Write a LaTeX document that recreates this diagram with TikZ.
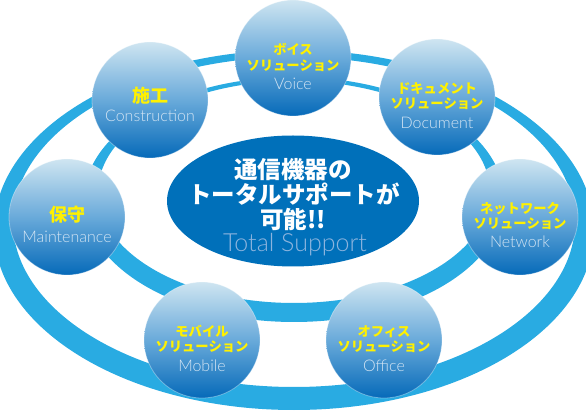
\documentclass[tikz,border=0pt]{standalone}
\usepackage{fontspec}
\setmainfont{Open Sans}
\newfontfamily\jp{Noto Sans CJK JP}
\newfontfamily\thin{Lato}[UprightFont={* Light}]
\usetikzlibrary{shapes.geometric}
\definecolor{band}{RGB}{41,171,226}
\definecolor{core}{RGB}{0,112,186}
\definecolor{balltop}{RGB}{207,229,241}
\definecolor{ballmid}{RGB}{105,170,218}
\definecolor{ballbot}{RGB}{6,106,185}
\definecolor{jpyel}{RGB}{255,241,0}
\definecolor{entext}{RGB}{212,229,244}
\definecolor{coretext}{RGB}{140,180,222}
\tikzset{
  ball/.style={circle, minimum size=116pt, inner sep=0pt, top color=balltop, bottom color=ballbot, middle color=ballmid, draw=white, draw opacity=0.35, line width=0.8pt},
  jpsmall/.style={anchor=base, inner sep=0pt, text=jpyel, font=\jp\bfseries\fontsize{13.3}{15}\selectfont},
  jpbig/.style={anchor=base, inner sep=0pt, text=jpyel, font=\jp\bfseries\fontsize{18}{20}\selectfont},
  enlab/.style={anchor=base, inner sep=0pt, text=entext, font=\thin\fontsize{16}{18}\selectfont},
  corejp/.style={anchor=base, inner sep=0pt, text=white, font=\jp\bfseries\fontsize{23.5}{25}\selectfont},
}
\begin{document}
\begin{tikzpicture}[x=1pt,y=-1pt]
\useasboundingbox (0,0) rectangle (586,411);
% rings
\fill[band, even odd rule] (294,230) ellipse [x radius=300, y radius=180] (294,222) ellipse [x radius=281, y radius=165];
\fill[band, even odd rule] (294,199.5) ellipse [x radius=210, y radius=122.5] (294,192) ellipse [x radius=196, y radius=111];
% centre
\node[ellipse, fill=core, minimum width=252pt, minimum height=131pt, inner sep=0pt] (core) at (293,201) {};
\node[corejp] (c1) at (293,178.5) {通信機器の};
\node[corejp] (c2) at (294,203.5) {トータルサポートが};
\node[corejp] (c3) at (293,228.5) {可能!!};
\node[anchor=base, inner sep=0pt, text=coretext, font=\thin\fontsize{25}{27}\selectfont] (c4) at (295,252) {Total Support};
% balls
\node[ball] (voice) at (293,58) {};
\node[ball] (cons) at (150,100) {};
\node[ball] (doc) at (437,97) {};
\node[ball] (maint) at (67,217) {};
\node[ball] (net) at (520,217) {};
\node[ball] (mob) at (202,340) {};
\node[ball] (off) at (384,340) {};
% labels
\node[jpsmall] (v1) at (293,55) {ボイス};
\node[jpsmall] (v2) at (293,71) {ソリューション};
\node[enlab] (v3) at (293,89.5) {Voice};
\node[jpsmall] (d1) at (437,94) {ドキュメント};
\node[jpsmall] (d2) at (437,109) {ソリューション};
\node[enlab] (d3) at (437,128.5) {Document};
\node[jpsmall] (n1) at (520,214) {ネットワーク};
\node[jpsmall] (n2) at (520,229) {ソリューション};
\node[enlab] (n3) at (520,247.5) {Network};
\node[jpsmall] (m1) at (202,337) {モバイル};
\node[jpsmall] (m2) at (202,352) {ソリューション};
\node[enlab] (m3) at (202,371.5) {Mobile};
\node[jpsmall] (o1) at (384,337) {オフィス};
\node[jpsmall] (o2) at (384,352) {ソリューション};
\node[enlab] (o3) at (384,371.5) {Office};
\node[jpbig] (k1) at (150,103) {施工};
\node[enlab] (k2) at (150,121.5) {Construction};
\node[jpbig] (h1) at (67,222) {保守};
\node[enlab] (h2) at (67,242.5) {Maintenance};
\end{tikzpicture}
\end{document}
